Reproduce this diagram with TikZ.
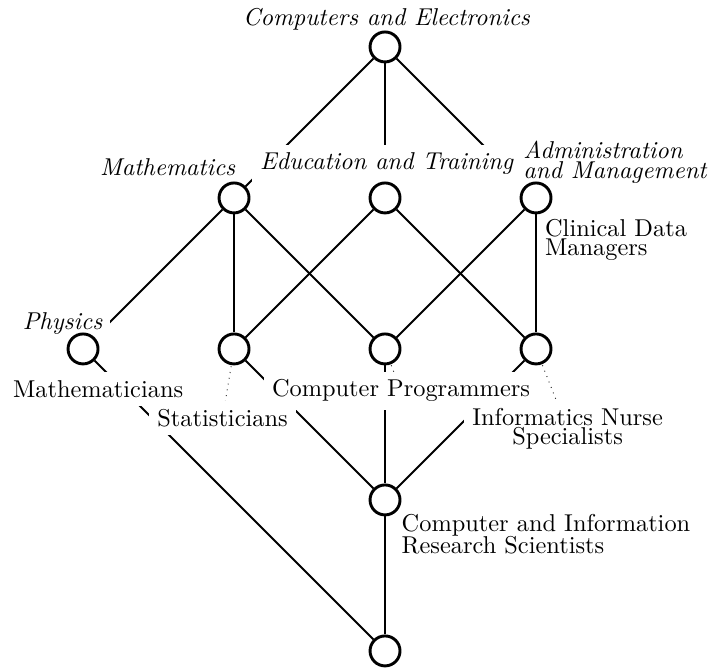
\documentclass[tikz,border=0pt]{standalone}
\usepackage{tikz}
\usetikzlibrary{positioning,backgrounds}
\tikzset{
  cnode/.style={circle, draw, line width=1.2pt, fill=white, inner sep=0pt, minimum size=12.3pt},
  ledge/.style={line width=0.8pt},
  alab/.style={font=\itshape, fill=white, align=left},
  olab/.style={fill=white, align=left},
  lead/.style={dotted, black!80, thin},
}

\begin{document}
\begin{tikzpicture}[x=2.178cm,y=2.178cm]
  \useasboundingbox (-2.55,-0.119) rectangle (2.139,4.311);
  % attribute labels
  \node[alab] (l-top) at (0.01,4.185) {Computers and Electronics};
  \node[alab] (l-mat) at (-1.44,3.205) {Mathematics};
  \node[alab] (l-edu) at (0.01,3.225) {Education and Training};
  \node[alab] (l-adm) at (1.523,3.235) {Administration\\[-3.8pt]and Management};
  \node[alab] (l-phy) at (-2.136,2.166) {Physics};
  % object labels
  \node[olab] (l-cdm) at (1.53,2.722) {Clinical Data\\[-4pt]Managers};
  \node[olab] (l-mtn) at (-1.90,1.735) {Mathematicians};
  \node[olab] (l-sta) at (-1.076,1.543) {Statisticians};
  \node[olab] (l-prg) at (0.106,1.722) {Computer Programmers};
  \node[olab, align=center] (l-nur) at (1.209,1.47) {Informatics Nurse\\[-4pt]Specialists};
  \node[olab] (l-cis) at (1.066,0.775) {Computer and Information\\[-3pt]Research Scientists};
  % concepts of the lattice
  \foreach \nm/\cx/\cy in {top/0/4, mat/-1/3, edu/0/3, adm/1/3, phy/-2/2,
                           sta/-1/2, prg/0/2, nur/1/2, cis/0/1, bot/0/0}
    \node[cnode] (\nm) at (\cx,\cy) {};
  \begin{pgfonlayer}{background}
    % cover relation
    \foreach \a/\b in {top/mat, top/edu, top/adm, mat/phy, mat/sta, mat/prg,
                       edu/sta, edu/nur, adm/prg, adm/nur, phy/bot,
                       sta/cis, prg/cis, nur/cis, cis/bot}
      \draw[ledge] (\a) -- (\b);
    % leaders from labels to concepts
    \foreach \nm/\lb in {adm/l-adm, phy/l-phy, sta/l-sta, prg/l-prg, nur/l-nur}
      \draw[lead] (\nm.center) -- (\lb.center);
  \end{pgfonlayer}
\end{tikzpicture}
\end{document}
